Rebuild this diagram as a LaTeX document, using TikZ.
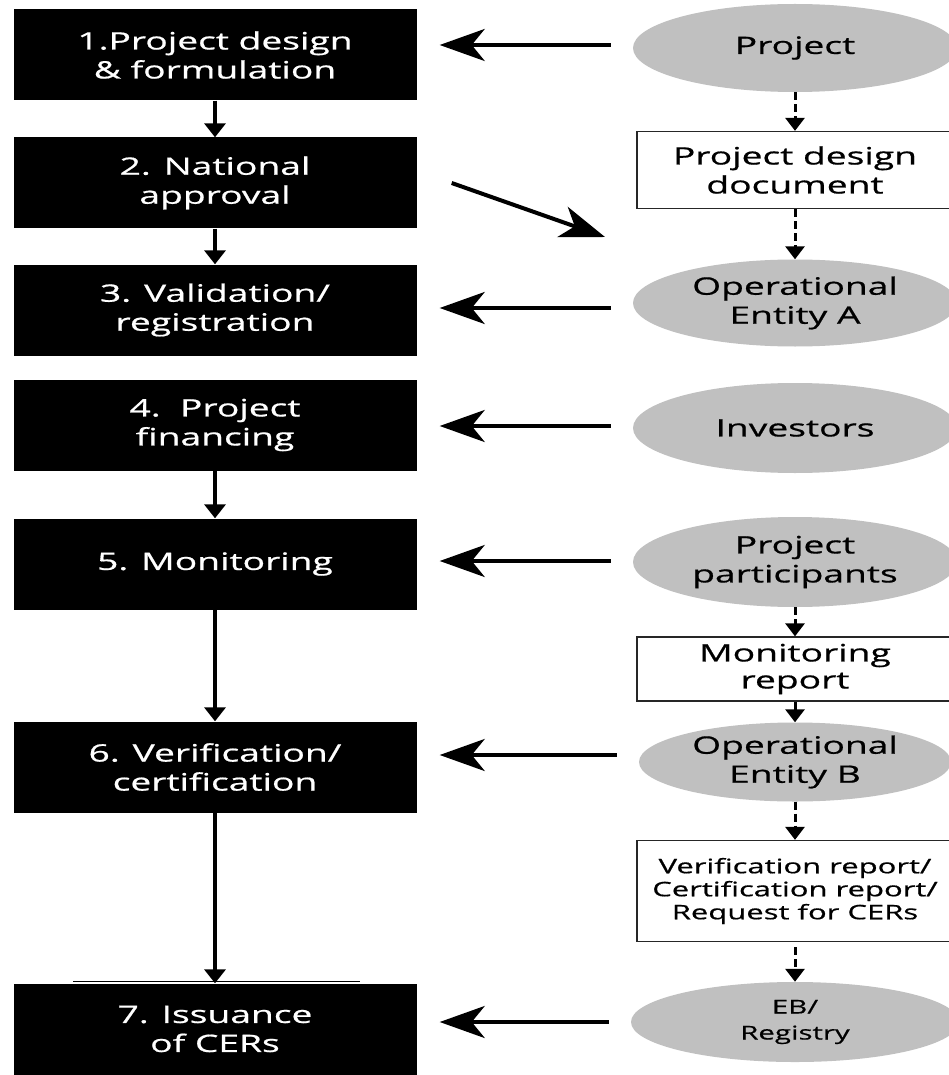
\documentclass[tikz,border=0pt]{standalone}
\usepackage{fontspec}
\setmainfont{Open Sans}[FakeStretch=1.55,FakeBold=0.7]
\usetikzlibrary{shapes.geometric, arrows.meta, positioning}
\definecolor{ovalgray}{RGB}{192,192,192}

\begin{document}
\begin{tikzpicture}[x=1pt,y=-1pt,font=\fontsize{24}{29}\selectfont]
\tikzstyle{stepbox} = [rectangle, fill=black, text=white, minimum width=403pt, minimum height=91pt, align=center, inner sep=0pt]
\tikzstyle{actor} = [ellipse, fill=ovalgray, minimum width=324pt, minimum height=88pt, align=center, inner sep=0pt]
\tikzstyle{doc} = [rectangle, draw=black!85, line width=1.3pt, fill=white, minimum width=316pt, align=center, inner sep=0pt]
\tikzstyle{arrow} = [line width=4pt, -{Stealth[length=45pt,width=32pt,inset=13pt]}]
\tikzstyle{input} = [arrow, shorten <=22pt, shorten >=23pt]
\tikzstyle{down} = [line width=3.5pt, -{Triangle[length=14pt,width=21pt]}]
\tikzstyle{dashdown} = [line width=3pt, dash pattern=on 8pt off 4pt, -{Triangle[length=13pt,width=19pt]}]

\path[use as bounding box, fill=white] (0,0) rectangle (949,1075);

% Steps
\node[stepbox] (design) at (215,55) {1.Project design\\\& formulation};
\node[stepbox] (approval) at (215,183) {2. National\\approval};
\node[stepbox] (validation) at (215,310) {3. Validation/\\registration};
\node[stepbox] (financing) at (215,425) {4.\ \ Project\\financing};
\node[stepbox] (monitoring) at (215,564) {5. Monitoring};
\node[stepbox] (verification) at (215,767) {6. Verification/\\certification};
\node[stepbox] (issuance) at (215,1029) {7. Issuance\\of CERs};

% Actors and documents
\node[actor] (project) at (795,48) {Project};
\node[doc, minimum height=77pt] (pdd) at (795,170) {Project design\\document};
\node[actor, minimum height=87pt] (oea) at (795,303) {Operational\\Entity A};
\node[actor, minimum height=90pt] (investors) at (795,428) {Investors};
\node[actor, minimum height=90pt] (participants) at (795,562) {Project\\participants};
\node[doc, minimum height=64pt, font=\fontsize{24}{27}\selectfont] (mreport) at (795,669) {Monitoring\\report};
\node[actor, minimum width=312pt, minimum height=79pt] (oeb) at (795,762) {Operational\\Entity B};
\node[doc, minimum height=101pt, font=\fontsize{20}{23}\selectfont] (vreport) at (795,891) {Verification report/\\Certification report/\\Request for CERs};
\node[actor, minimum width=328pt, minimum height=80pt, font=\fontsize{19}{26}\selectfont] (registry) at (795,1022) {EB/\\Registry};
\coordinate (pddin) at (605,237);

% flow of steps
\draw [down] (design) -- (approval);
\draw [down] (approval) -- (validation);
\draw [down] (financing) -- (monitoring);
\draw [down] (monitoring) -- (verification);
\draw [down] (verification) -- (issuance);
\draw [line width=0.8pt] (73,981) -- (360,981);

% inputs
\draw [input] ([yshift=3pt]project.west) -- ([yshift=3pt]project.west -| design.east);
\draw [arrow] ([xshift=35pt]approval.east) -- (pddin);
\draw [input] ([yshift=-5pt]oea.west) -- ([yshift=-5pt]oea.west -| validation.east);
\draw [input] ([yshift=2pt]investors.west) -- ([yshift=2pt]investors.west -| financing.east);
\draw [input] ([yshift=1pt]participants.west) -- ([yshift=1pt]participants.west -| monitoring.east);
\draw [input] ([yshift=7pt]oeb.west) -- ([yshift=7pt]oeb.west -| verification.east);
\draw [input] (registry.west) -- (registry.west -| issuance.east);

% documents
\draw [dashdown] (project) -- (pdd);
\draw [dashdown] (pdd) -- (oea);
\draw [dashdown] (participants) -- (mreport);
\draw [down, line width=3pt, -{Triangle[length=13pt,width=19pt]}] (mreport) -- (oeb);
\draw [dashdown] (oeb) -- (vreport);
\draw [dashdown] ([yshift=-5pt]vreport.south) -- (registry);
\end{tikzpicture}
\end{document}
